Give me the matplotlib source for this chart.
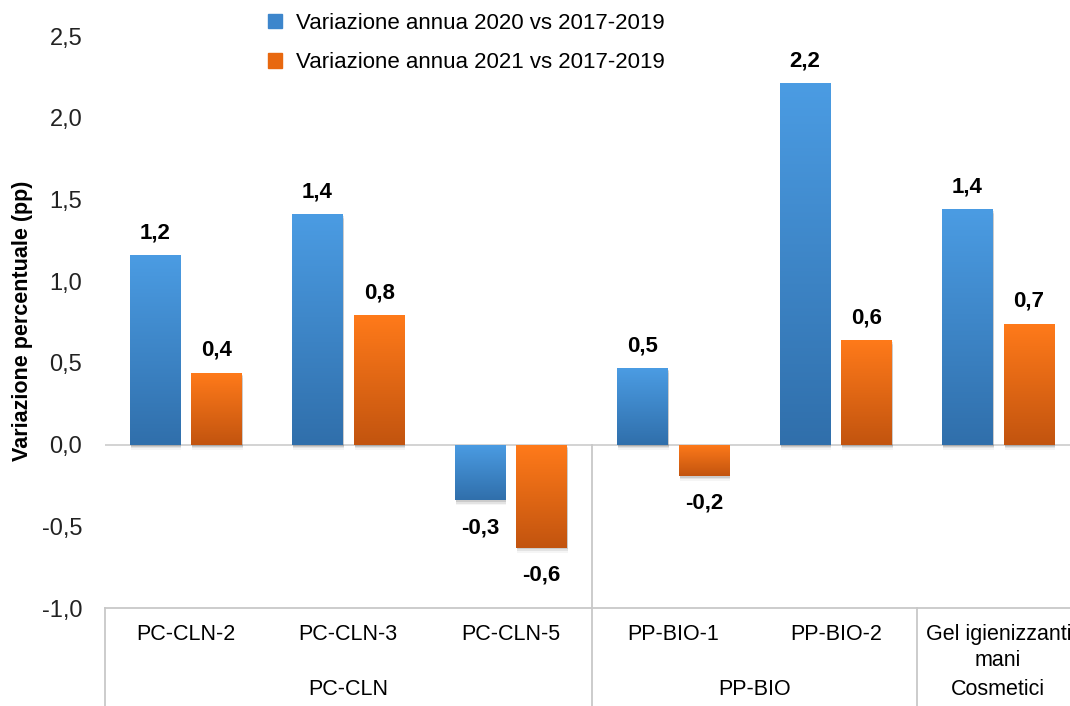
import numpy as np
import matplotlib.pyplot as plt
from matplotlib.colors import LinearSegmentedColormap
from matplotlib.patches import Rectangle

plt.rcParams['font.family'] = ['Liberation Sans', 'DejaVu Sans']

# data
categories = ["PC-CLN-2", "PC-CLN-3", "PC-CLN-5", "PP-BIO-1", "PP-BIO-2", "Gel igienizzanti\nmani"]
groups = ["PC-CLN", "PP-BIO", "Cosmetici"]
group_spans = [(0, 2), (3, 4), (5, 5)]
var_2020 = [1.16, 1.41, -0.34, 0.47, 2.21, 1.44]
var_2021 = [0.44, 0.79, -0.63, -0.19, 0.64, 0.74]
series_names = ["Variazione annua 2020 vs 2017-2019", "Variazione annua 2021 vs 2017-2019"]
yticks = [-1.0, -0.5, 0.0, 0.5, 1.0, 1.5, 2.0, 2.5]

blue_grad = LinearSegmentedColormap.from_list("b", ["#306fab", "#4b9ce3"])
orange_grad = LinearSegmentedColormap.from_list("o", ["#c2540f", "#ff7a1a"])

fig = plt.figure(figsize=(10.7, 7.06), dpi=100)
ax = fig.add_axes([104.5 / 1070, 98 / 706, 975 / 1070, 572 / 706])
ax.set_xlim(-0.5, 5.5)
ax.set_ylim(-1.0, 2.5)

x = np.arange(len(categories))
w = 0.31
off = 0.19


def fmt(v):
    return f"{v:.1f}".replace(".", ",")


def draw_series(xs, vals, cmap):
    bars = ax.bar(xs, vals, width=w, color="none", edgecolor="none", zorder=3)
    grad = np.linspace(0, 1, 256).reshape(-1, 1)
    for b, v in zip(bars, vals):
        x0 = b.get_x()
        top = max(v, 0)
        bot = min(v, 0)
        # soft shadow
        for k, a in [(0.012, 0.10), (0.022, 0.07), (0.032, 0.04)]:
            ax.add_patch(Rectangle((x0 + 0.006, bot - k), w, top - bot, color="black",
                                   alpha=a, lw=0, zorder=2))
        im = ax.imshow(grad, cmap=cmap, aspect="auto", origin="lower",
                       extent=[x0, x0 + w, bot, top], zorder=3)
        im.set_clip_path(b)
        if v >= 0:
            ax.annotate(fmt(v), (x0 + w / 2, v), xytext=(0, 16), textcoords="offset points",
                        ha="center", va="center", fontsize=16, fontweight="bold", zorder=5)
        else:
            ax.annotate(fmt(v), (x0 + w / 2, v), xytext=(0, -20), textcoords="offset points",
                        ha="center", va="center", fontsize=16, fontweight="bold", zorder=5)
    return bars


draw_series(x - off, var_2020, blue_grad)
draw_series(x + off, var_2021, orange_grad)
ax.set_xlim(-0.5, 5.5)
ax.set_ylim(-1.0, 2.5)

# zero line and axis line
ax.axhline(0, color="#d0d0d0", lw=1.3, zorder=1)
for s in ["top", "right", "left"]:
    ax.spines[s].set_visible(False)
ax.spines["bottom"].set_color("#c8c8c8")
ax.spines["bottom"].set_linewidth(1.3)

ax.set_yticks(yticks)
ax.set_yticklabels([fmt(t) for t in yticks], fontsize=17, color="#222222")
ax.tick_params(axis="y", length=0, pad=16)
ax.set_xticks([])
ax.set_ylabel("Variazione percentuale (pp)", fontsize=15.5, fontweight="bold")
ax.yaxis.set_label_coords(-0.073, 0.502)

# multi-level category labels
for xi, c in zip(x, categories):
    ax.text(xi, -1.095, c, ha="center", va="top", fontsize=15.5, linespacing=1.35, clip_on=False)
for g, (a, b) in zip(groups, group_spans):
    ax.text((a + b) / 2, -1.50, g, ha="center", va="center", fontsize=15.5, clip_on=False)

# separators
ax.plot([-0.5, -0.5], [-1.0, -1.61], color="#c8c8c8", lw=1.3, clip_on=False)
ax.plot([2.5, 2.5], [0.0, -1.61], color="#c8c8c8", lw=1.3, clip_on=False)
ax.plot([4.5, 4.5], [-1.0, -1.61], color="#c8c8c8", lw=1.3, clip_on=False)

# legend
handles = [Rectangle((0, 0), 1, 1, color="#3d86cc"), Rectangle((0, 0), 1, 1, color="#e8680f")]
fig.legend(handles, series_names, loc="upper left", bbox_to_anchor=(268 / 1070, 1 - 13 / 706),
           frameon=False, fontsize=16, handlelength=0.63, handleheight=0.63,
           handletextpad=0.63, labelspacing=0.82, borderaxespad=0, borderpad=0)

fig.savefig("out.png", dpi=100)
